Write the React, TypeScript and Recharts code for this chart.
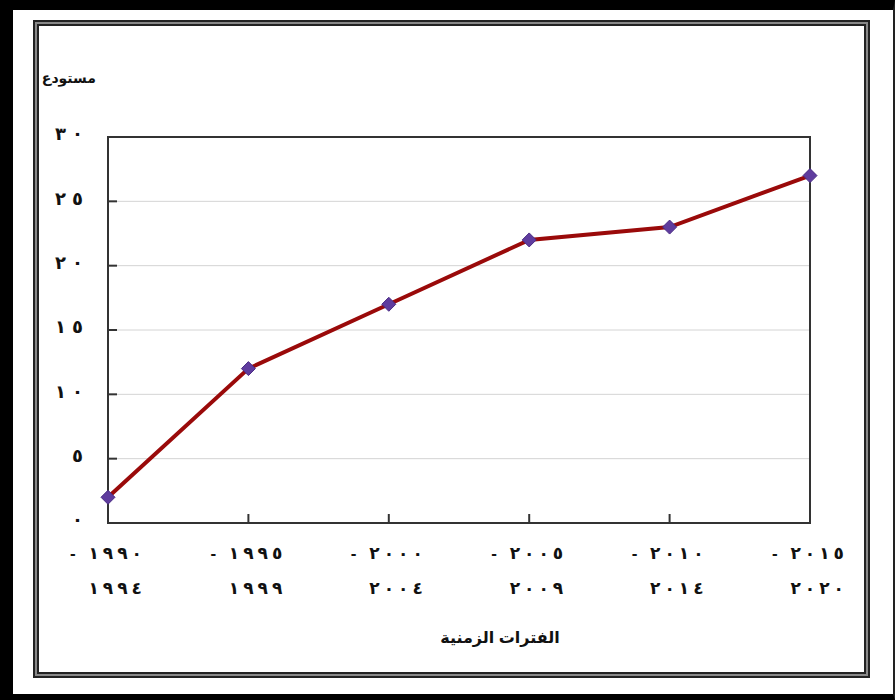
import { LineChart, Line, XAxis, YAxis, CartesianGrid, ReferenceArea } from "recharts"

// periods (start - end), Arabic-Indic digits
const periodStart = ["١٩٩٠", "١٩٩٥", "٢٠٠٠", "٢٠٠٥", "٢٠١٠", "٢٠١٥"]
const periodEnd = ["١٩٩٤", "١٩٩٩", "٢٠٠٤", "٢٠٠٩", "٢٠١٤", "٢٠٢٠"]
const values = [2, 12, 17, 22, 23, 27]

const yTicks = [0, 5, 10, 15, 20, 25, 30]
const yTickLabels = ["٠", "٥", "١٠", "١٥", "٢٠", "٢٥", "٣٠"]

const yTitle = "مستودع"
const xTitle = "الفترات الزمنية"

const data = periodStart.map((p, i) => ({ period: p, end: periodEnd[i], value: values[i] }))

const font = "'Liberation Sans', 'DejaVu Sans', Arial, sans-serif"

// digits in the original are spread out, so space each glyph
function spaced(s: string, gap: number) {
  return Array.from(s).map((c, k) => (
    <tspan key={k} dx={k ? gap : 0}>{c}</tspan>
  ))
}

function XTick(props: any) {
  const { x, y, payload, index } = props
  const i = index ?? periodStart.indexOf(payload.value)
  return (
    <g>
      <line x1={x} x2={x} y1={y} y2={y - 9} stroke="#333" strokeWidth={2} />
      <text x={x + 34} y={y + 36} textAnchor="end" fontFamily={font} fontWeight="bold" fontSize={17} fill="#111">
        {spaced("- " + payload.value, 4)}
      </text>
      <text x={x + 34} y={y + 71} textAnchor="end" fontFamily={font} fontWeight="bold" fontSize={17} fill="#111">
        {spaced(periodEnd[i], 4)}
      </text>
    </g>
  )
}

function YTick(props: any) {
  const { x, y, payload } = props
  const label = yTickLabels[yTicks.indexOf(payload.value)]
  return (
    <g>
      <line x1={x} x2={x + 9} y1={y} y2={y} stroke="#333" strokeWidth={2} />
      <text x={x - 25} y={y - 3} dy="0.35em" textAnchor="end" fontFamily={font} fontWeight="bold" fontSize={18} fill="#111">
        {spaced(label, 6)}
      </text>
    </g>
  )
}

function Diamond(props: any) {
  const { cx, cy } = props
  if (cx == null || cy == null) return null
  const r = 7
  return (
    <polygon
      points={`${cx},${cy - r} ${cx + r},${cy} ${cx},${cy + r} ${cx - r},${cy}`}
      fill="#5f3c9e"
      stroke="#4a2c85"
      strokeWidth={1}
    />
  )
}

export default function App() {
  return (
    <div style={{ position: "absolute", left: 0, top: 0, width: 895, height: 700, background: "#fff" }}>
      <div
        style={{
          position: "absolute", left: 0, top: 0, width: 895, height: 700, boxSizing: "border-box",
          borderTop: "10px solid #000", borderLeft: "13px solid #000", borderBottom: "6px solid #000", borderRight: "2px solid #222"
        }}
      />
      <div
        style={{
          position: "absolute", left: 33, top: 20, width: 837, height: 658, boxSizing: "border-box",
          border: "2px solid #222", boxShadow: "inset 0 0 0 2px #888, inset 0 0 0 4px #222"
        }}
      />
      <div style={{ position: "absolute", left: 36, top: 70, width: 60, textAlign: "right", direction: "rtl", fontFamily: font, fontWeight: "bold", fontSize: 14, color: "#111" }}>
        {yTitle}
      </div>
      <div style={{ position: "absolute", left: 400, top: 628, width: 200, textAlign: "center", direction: "rtl", fontFamily: font, fontWeight: "bold", fontSize: 16, color: "#111" }}>
        {xTitle}
      </div>
      <div style={{ position: "absolute", left: 0, top: 0 }}>
        <LineChart width={895} height={700} data={data} margin={{ top: 137, right: 85, bottom: 97, left: 48 }}>
          <CartesianGrid vertical={false} stroke="#d4d4d4" strokeWidth={1} />
          <XAxis
            dataKey="period"
            height={80}
            axisLine={false}
            tickLine={false}
            tickSize={0}
            tickMargin={0}
            interval={0}
            tick={<XTick />}
          />
          <YAxis
            width={60}
            domain={[0, 30]}
            ticks={yTicks}
            axisLine={false}
            tickLine={false}
            tickSize={0}
            tickMargin={0}
            interval={0}
            tick={<YTick />}
          />
          <ReferenceArea x1={periodStart[0]} x2={periodStart[periodStart.length - 1]} y1={0} y2={30} fill="none" stroke="#333" strokeWidth={2} fillOpacity={0} />
          <Line
            dataKey="value"
            stroke="#9a0a0a"
            strokeWidth={4}
            dot={<Diamond />}
            isAnimationActive={false}
          />
        </LineChart>
      </div>
    </div>
  )
}
